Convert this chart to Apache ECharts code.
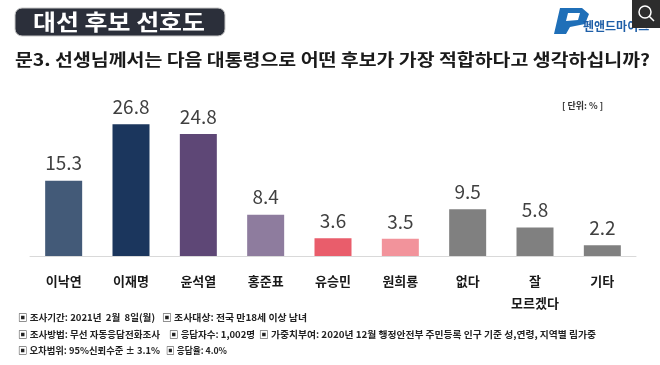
<!DOCTYPE html>
<html><head><meta charset="utf-8">
<script src="https://cdn.jsdelivr.net/npm/echarts@6/dist/echarts.min.js"></script>
<style>html,body{margin:0;padding:0;background:#fff}#c{width:660px;height:365px}</style>
</head><body><div id="c"></div>
<script>
const categories = ['이낙연','이재명','윤석열','홍준표','유승민','원희룡','없다','잘\n모르겠다','기타'];
const values = [15.3, 26.8, 24.8, 8.4, 3.6, 3.5, 9.5, 5.8, 2.2];
const barColors = ['#435a78','#1b365d','#5e4776','#8e7c9e','#e95d6b','#f2939b','#808080','#808080','#808080'];
const title = '대선 후보 선호도';
const question = '문3. 선생님께서는 다음 대통령으로 어떤 후보가 가장 적합하다고 생각하십니까?';
const unitNote = '[ 단위: % ]';
const footLine1 = ['▣ 조사기간: 2021년  2월  8일(월)', '▣ 조사대상: 전국 만18세 이상 남녀'];
const footLine2 = ['▣ 조사방법: 무선 자동응답전화조사', '▣ 응답자수: 1,002명', '▣ 가중치부여: 2020년 12월 행정안전부 주민등록 인구 기준 성,연령, 지역별 림가중'];
const footLine3 = ['▣ 오차범위: 95%신뢰수준 ± 3.1%', '▣ 응답율: 4.0%'];
const FONT = '"Noto Sans CJK KR", "Noto Sans", sans-serif';

const ctx = document.createElement('canvas').getContext('2d');
function fitText(text, x, y, size, targetW, extra) {
  ctx.font = 'bold ' + size + 'px ' + FONT;
  const w = ctx.measureText(text).width;
  const s = Math.min(1.5, Math.max(0.8, targetW / w));
  return Object.assign({type:'text', x:x, y:y, scaleX:s,
    style:{text:text, x:0, y:0, verticalAlign:'middle', fill:'#222', fontSize:size, fontWeight:'bold', fontFamily:FONT}}, extra || {});
}
const footGraphics = [];
[[footLine1, [18,162], [137,145], 317], [footLine2, [18,169,259], [142,86,337], 334], [footLine3, [18,166], [142,61], 350]]
  .forEach(([segs, xs, ws, y]) => segs.forEach((t,i) => footGraphics.push(fitText(t, xs[i], y, 9.5, ws[i]))));

const qText = fitText(question, 15, 60, 17, 635);
qText.style.fill = '#1a1a1a';
const tText = fitText(title, 33, 22, 22, 172);
tText.style.fill = '#fff';

const chart = echarts.init(document.getElementById('c'), null, {renderer:'canvas'});
chart.setOption({
  animation:false,
  backgroundColor:'#fff',
  grid:{left:30, right:24, top:108.5, bottom:109},
  xAxis:{type:'category', data:categories,
    axisLine:{lineStyle:{color:'#d9d9d9', width:1}}, axisTick:{show:false},
    axisLabel:{color:'#1a1a1a', fontSize:13, fontWeight:'bold', fontFamily:FONT, margin:14, lineHeight:22, interval:0}},
  yAxis:{type:'value', min:0, max:30, show:false, splitLine:{show:false}},
  series:[{type:'bar', barWidth:37,
    data: values.map((v,i)=>({value:v, itemStyle:{color:barColors[i]}})),
    label:{show:true, position:'top', distance:8, color:'#404040', fontSize:19, fontFamily:FONT, fontWeight:'normal',
      formatter:p=>p.value.toFixed(1)}
  }],
  graphic:[
    {type:'rect', shape:{x:15, y:8, width:210, height:28, r:7}, style:{fill:'#2b2f3a', stroke:'#c8c8c8', lineWidth:1}},
    tText,
    qText,
    {type:'text', x:562, y:106, style:{text:unitNote, x:0, y:0, verticalAlign:'middle', fill:'#333', fontSize:9, fontWeight:'bold', fontFamily:FONT}},
    ...footGraphics,
    // logo
    {type:'polygon', shape:{points:[[560,8],[582,8],[589,14],[585,24],[570,27],[566,34],[554,34]]}, style:{fill:'#1f6fb8'}},
    {type:'polygon', shape:{points:[[568,13],[580,13],[578,20],[566,21]]}, style:{fill:'#fff'}},
    {type:'text', x:583, y:26, style:{text:'펜앤드마이크', x:0, y:0, verticalAlign:'middle', fill:'#1f5fa8', fontSize:12, fontWeight:'bold', fontFamily:FONT}},
    {type:'rect', shape:{x:632, y:0, width:28, height:28}, style:{fill:'#2d2d2d'}},
    {type:'circle', shape:{cx:645, cy:12, r:6}, style:{fill:'none', stroke:'#fff', lineWidth:1.5}},
    {type:'line', shape:{x1:649, y1:16, x2:654, y2:21}, style:{stroke:'#fff', lineWidth:1.5}}
  ]
});
</script></body></html>
